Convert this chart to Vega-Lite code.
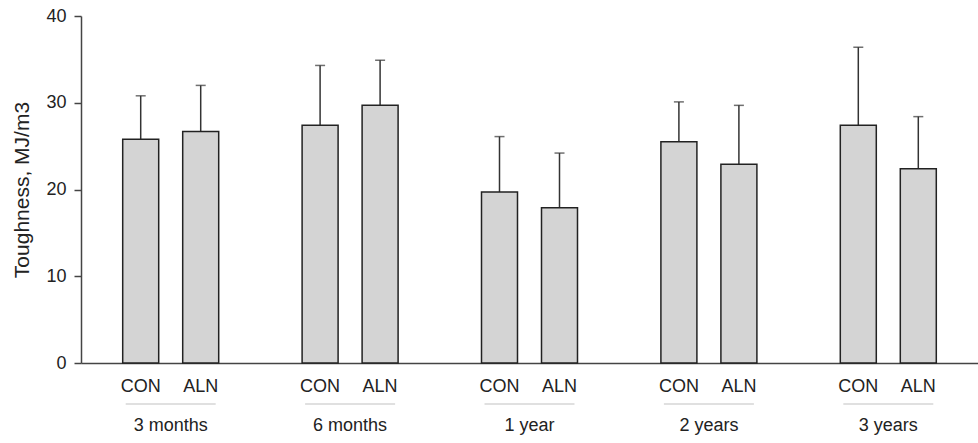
{
  "$schema": "https://vega.github.io/schema/vega-lite/v6.json",
  "width": 897,
  "height": 347,
  "autosize": {"type": "none"},
  "padding": {"left": 81, "top": 16, "right": 0, "bottom": 80},
  "background": "white",
  "config": {
    "view": {"stroke": null},
    "font": "Liberation Sans",
    "axis": {"grid": false, "domainColor": "#444", "tickColor": "#444", "labelColor": "#222", "titleColor": "#222", "labelFont": "Liberation Sans", "titleFont": "Liberation Sans"}
  },
  "data": {
    "values": [
      {"period": "3 months", "group": "CON", "value": 25.8, "upper": 30.8},
      {"period": "3 months", "group": "ALN", "value": 26.7, "upper": 32.0},
      {"period": "6 months", "group": "CON", "value": 27.4, "upper": 34.3},
      {"period": "6 months", "group": "ALN", "value": 29.7, "upper": 34.9},
      {"period": "1 year", "group": "CON", "value": 19.7, "upper": 26.1},
      {"period": "1 year", "group": "ALN", "value": 17.9, "upper": 24.2},
      {"period": "2 years", "group": "CON", "value": 25.5, "upper": 30.1},
      {"period": "2 years", "group": "ALN", "value": 22.9, "upper": 29.7},
      {"period": "3 years", "group": "CON", "value": 27.4, "upper": 36.4},
      {"period": "3 years", "group": "ALN", "value": 22.4, "upper": 28.4}
    ]
  },
  "encoding": {
    "x": {
      "field": "period", "type": "nominal",
      "scale": {"domain": ["3 months", "6 months", "1 year", "2 years", "3 years"], "paddingInner": 0, "paddingOuter": 0},
      "axis": {"title": null, "ticks": false, "labelAngle": 0, "labelFontSize": 18, "labelPadding": 53, "domainWidth": 1.5}
    }
  },
  "layer": [
    {
      "mark": {"type": "rule", "color": "#333", "strokeWidth": 1.5},
      "encoding": {
        "xOffset": {"field": "group", "type": "nominal", "scale": {"domain": ["CON", "ALN"], "paddingInner": 0.4, "paddingOuter": 0.695}},
        "y": {"field": "value", "type": "quantitative"},
        "y2": {"field": "upper"}
      }
    },
    {
      "mark": {"type": "tick", "color": "#333", "thickness": 1.5, "size": 10, "orient": "horizontal"},
      "encoding": {
        "xOffset": {"field": "group", "type": "nominal", "scale": {"domain": ["CON", "ALN"], "paddingInner": 0.4, "paddingOuter": 0.695}},
        "y": {"field": "upper", "type": "quantitative"}
      }
    },
    {
      "mark": {"type": "bar", "fill": "#d4d4d4", "stroke": "#222", "strokeWidth": 1.5},
      "encoding": {
        "xOffset": {"field": "group", "type": "nominal", "scale": {"domain": ["CON", "ALN"], "paddingInner": 0.4, "paddingOuter": 0.695}},
        "y": {
          "field": "value", "type": "quantitative",
          "scale": {"domain": [0, 40], "nice": false},
          "axis": {"values": [0, 10, 20, 30, 40], "title": "Toughness, MJ/m3", "titleFontSize": 21, "titleFontWeight": "normal", "titlePadding": 13, "labelFontSize": 18, "labelPadding": 8, "tickSize": 7, "domainWidth": 1.5, "tickWidth": 1.5}
        }
      }
    },
    {
      "mark": {"type": "text", "fontSize": 18, "color": "#222", "dy": 24, "baseline": "middle"},
      "encoding": {
        "xOffset": {"field": "group", "type": "nominal", "scale": {"domain": ["CON", "ALN"], "paddingInner": 0.4, "paddingOuter": 0.695}},
        "y": {"datum": 0, "type": "quantitative"},
        "text": {"field": "group"}
      }
    },
    {
      "transform": [{"filter": "datum.group === 'CON'"}],
      "mark": {"type": "tick", "color": "#aaa", "thickness": 1, "size": 90, "orient": "horizontal", "yOffset": 41},
      "encoding": {
        "y": {"datum": 0, "type": "quantitative"}
      }
    }
  ]
}
